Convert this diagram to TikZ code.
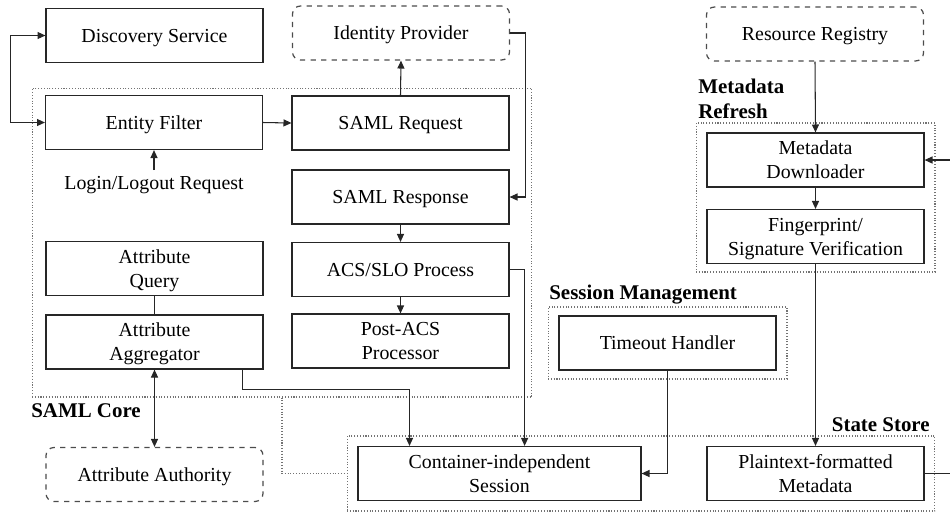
\documentclass[tikz,border=0pt]{standalone}
\usepackage{fontspec}
\setmainfont{Liberation Serif}
\usetikzlibrary{arrows.meta, calc, positioning}

\begin{document}
\begin{tikzpicture}[x=0.02cm, y=-0.02cm,
    font=\fontsize{11.3pt}{13.6pt}\selectfont,
    comp/.style={draw=black!85, line width=0.7pt, minimum width=4.34cm, minimum height=1.08cm, align=center, inner sep=2pt, text depth=0pt},
    ext/.style={comp, dashed, rounded corners=4.5pt, draw=black!70},
    group/.style={draw=black!55, densely dotted, line width=0.6pt, inner sep=0pt},
    grouplabel/.style={font=\fontsize{11.9pt}{14.4pt}\selectfont\bfseries, inner sep=0pt, align=left},
    link/.style={draw=black!85, line width=0.6pt},
    tip/.tip={Triangle[length=4.5pt, width=4pt]}
]
    \useasboundingbox (0,0) rectangle (950,512);

    % Groups
    \node[group, minimum width=10cm, minimum height=6.18cm] (core) at (282,242.5) {};
    \node[group, minimum width=4.78cm, minimum height=1.44cm] (sessmgmt) at (667.5,343) {};
    \node[group, minimum width=4.78cm, minimum height=2.98cm] (refresh) at (815.5,197.5) {};
    \node[group, minimum width=11.76cm, minimum height=1.5cm] (store) at (641,473.5) {};

    \node[grouplabel, anchor=west] (corelbl) at (31,411) {SAML Core};
    \node[grouplabel, anchor=west] (sesslbl) at (549,295) {Session Management};
    \node[grouplabel, anchor=west] (refreshlbl) at (698,99) {Metadata\\Refresh};
    \node[grouplabel, anchor=east] (storelbl) at (930,425) {State Store};

    % External parties
    \node[comp] (disc) at (154.5,35.5) {Discovery Service};
    \node[ext] (idp) at (401,33) {Identity Provider};
    \node[ext] (reg) at (815,34) {Resource Registry};
    \node[ext] (auth) at (154.5,474.5) {Attribute Authority};

    % SAML core
    \node[comp] (filt) at (154,122.5) {Entity Filter};
    \node[text depth=0pt] (login) at (154,183) {Login/Logout Request};
    \node[comp] (samlreq) at (400.5,123) {SAML Request};
    \node[comp] (samlresp) at (400.5,197) {SAML Response};
    \node[comp] (acs) at (400.5,269.5) {ACS/SLO Process};
    \node[comp] (postacs) at (400.5,341) {Post-ACS\\Processor};
    \node[comp] (query) at (154.5,268.5) {Attribute\\Query};
    \node[comp] (agg) at (154.5,342) {Attribute\\Aggregator};

    % Session management
    \node[comp] (timeout) at (667.5,343) {Timeout Handler};

    % Metadata refresh
    \node[comp] (dl) at (815.5,160) {Metadata\\Downloader};
    \node[comp] (fp) at (815.5,236.5) {Fingerprint/\\Signature Verification};

    % State store
    \node[comp, minimum width=5.66cm] (sess) at (499.5,473.5) {Container-independent\\Session};
    \node[comp] (plain) at (815.5,473.5) {Plaintext-formatted\\Metadata};

    % Connectors
    \draw[link, tip-tip] (disc.west) -- ++(-35,0) |- (filt.west);
    \draw[link, -tip] (login.north) -- (filt.south);
    \draw[link, -tip] (filt.east) -- (samlreq.west);
    \draw[link, -tip] (samlreq.north) -- (idp.south);
    \draw[link, -tip] (idp.east) -- ++(15,0) |- (samlresp.east);
    \draw[link, -tip] (samlresp.south) -- (acs.north);
    \draw[link, -tip] (acs.south) -- (postacs.north);
    \draw[link] (query.south) -- (agg.north);
    \draw[link, tip-tip] (agg.south) -- (auth.north);
    \draw[link, -tip] (acs.east) -- ++(15,0) coordinate (acsout) -- (acsout |- sess.north);
    \draw[link, -tip] ($(agg.south east)+(-21,0)$) -- ++(0,20) -| ($(sess.north)+(-90,0)$);
    \draw[link, -tip] (timeout.south) |- (sess.east);
    \draw[link, -tip] (reg.south) -- (dl.north);
    \draw[link, -tip] (dl.south) -- (fp.north);
    \draw[link, -tip] (fp.south) -- (plain.north);
    \draw[link, -tip] (plain.east) -- ++(40,0) |- (dl.east);
    \draw[group] (core.south) |- (store.west);

\end{tikzpicture}
\end{document}
